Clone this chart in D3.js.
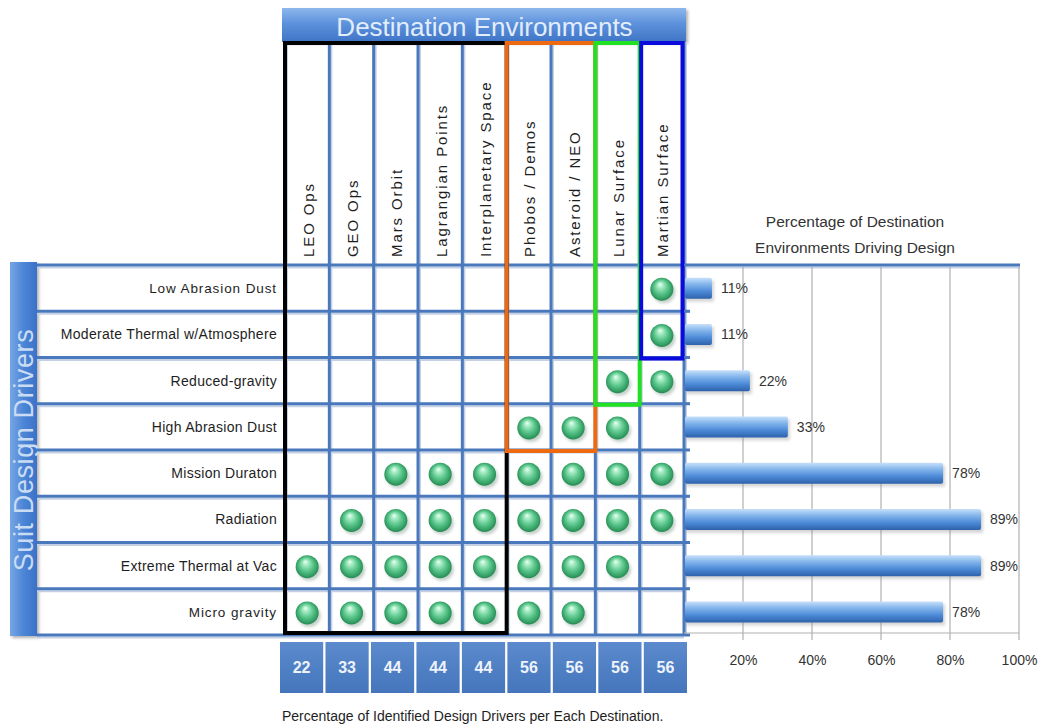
<!DOCTYPE html>
<html><head><meta charset="utf-8">
<script src="https://cdn.jsdelivr.net/npm/d3@7/dist/d3.min.js"></script>
<style>
html,body{margin:0;padding:0;background:#fff;}
svg{display:block;font-family:"Liberation Sans",Arial,Helvetica,sans-serif;}
</style></head>
<body>
<svg id="chart" width="1042" height="728"></svg>
<script>
// ---------------- DATA ----------------
const destinations = ["LEO Ops","GEO Ops","Mars Orbit","Lagrangian Points","Interplanetary Space","Phobos / Demos","Asteroid / NEO","Lunar Surface","Martian Surface"];
const drivers = ["Low Abrasion Dust","Moderate Thermal w/Atmosphere","Reduced-gravity","High Abrasion Dust","Mission Duraton","Radiation","Extreme Thermal at Vac","Micro  gravity"];
// 1 = destination drives this suit design driver
const matrix = [
  [0,0,0,0,0,0,0,0,1],
  [0,0,0,0,0,0,0,0,1],
  [0,0,0,0,0,0,0,1,1],
  [0,0,0,0,0,1,1,1,0],
  [0,0,1,1,1,1,1,1,1],
  [0,1,1,1,1,1,1,1,1],
  [1,1,1,1,1,1,1,1,0],
  [1,1,1,1,1,1,1,0,0]
];
const destPercent = [22,33,44,44,44,56,56,56,56];
const driverPercent = [11,11,22,33,78,89,89,78];
const barTicks = [20,40,60,80,100];
// destination groups: first column, last column, last driver row
const groupFirstCol = [0,5,7,8];
const groupLastCol  = [4,6,7,8];
const groupLastRow  = [7,3,2,1];
const groupColors   = ["#000000","#ee6a12","#22e022","#0a0adc"];

const titleTop = "Destination Environments";
const titleLeft = "Suit Design Drivers";
const barTitle = ["Percentage of Destination","Environments Driving Design"];
const caption = "Percentage of Identified Design Drivers per Each Destination.";

// ---------------- LAYOUT ----------------
const svg = d3.select("#chart");
const gridL = 285, gridR = 684, gridT = 265, gridB = 635;
const headerTop = 8, headerBot = 42;
const labelL = 37;

const x = d3.scaleBand().domain(destinations).range([gridL, gridR]);
const y = d3.scaleBand().domain(drivers).range([gridT, gridB]);
const xn = d3.scaleBand().domain(destinations).range([280, 687]).paddingInner(0.05).paddingOuter(0);
const xb = d3.scaleLinear().domain([0,100]).range([674, 1019]);

// ---------------- DEFS ----------------
const defs = svg.append("defs");
function linGrad(id, x1,y1,x2,y2, stops){
  const g = defs.append("linearGradient").attr("id",id)
    .attr("x1",x1).attr("y1",y1).attr("x2",x2).attr("y2",y2);
  stops.forEach(s=>g.append("stop").attr("offset",s[0]).attr("stop-color",s[1]));
}
linGrad("hdrGrad","0","0","0","1",[["0%","#8db7ec"],["45%","#5d92dc"],["100%","#3f74c6"]]);
linGrad("leftGrad","0","0","1","0",[["0%","#76a6e4"],["50%","#4c86d6"],["100%","#3a71c8"]]);
linGrad("barGrad","0","0","0","1",[["0%","#c9e1fb"],["30%","#86b7ec"],["65%","#4d8bd8"],["100%","#2e62ab"]]);
linGrad("cellGrad","0","0","0","1",[["0%","#5b8bcd"],["100%","#4575bb"]]);
const rg = defs.append("radialGradient").attr("id","dotGrad")
  .attr("cx","50%").attr("cy","50%").attr("r","55%").attr("fx","42%").attr("fy","28%");
[["0%","#f2fff7"],["18%","#b0efcb"],["50%","#62cb92"],["82%","#33a064"],["100%","#237a4a"]]
  .forEach(s=>rg.append("stop").attr("offset",s[0]).attr("stop-color",s[1]));
const blur = defs.append("filter").attr("id","blur").attr("x","-50%").attr("y","-50%").attr("width","200%").attr("height","200%");
blur.append("feGaussianBlur").attr("stdDeviation",1.6);
const sh = defs.append("filter").attr("id","shadow").attr("x","-10%").attr("y","-10%").attr("width","130%").attr("height","130%");
sh.append("feDropShadow").attr("dx",2).attr("dy",2).attr("stdDeviation",1.5).attr("flood-color","#000").attr("flood-opacity",0.3);

// ---------------- HEADER BAND ----------------
svg.append("rect").attr("x",gridL-3).attr("y",headerTop).attr("width",gridR-gridL+5).attr("height",headerBot-headerTop)
  .attr("fill","url(#hdrGrad)").attr("filter","url(#shadow)");
svg.append("text").attr("x",(gridL+gridR)/2).attr("y",36).attr("text-anchor","middle")
  .attr("font-size",26).attr("fill","#e2edfb").text(titleTop);

// ---------------- LEFT BAND ----------------
svg.append("rect").attr("x",10).attr("y",gridT-3).attr("width",labelL-10).attr("height",gridB-gridT+4)
  .attr("fill","url(#leftGrad)").attr("filter","url(#shadow)");
svg.append("text").attr("transform",`translate(${23.5},${(gridT+gridB)/2}) rotate(-90)`)
  .attr("text-anchor","middle").attr("dominant-baseline","central")
  .attr("font-size",27).attr("fill","#cadcf4").attr("letter-spacing",0.6).text(titleLeft);

// ---------------- GRID LINES ----------------
const grid = svg.append("g");
const rowEdges = drivers.map(d=>y(d)).concat([gridB]);
const colEdges = destinations.map(d=>x(d)).concat([gridR]);
rowEdges.forEach((yy,i)=>{
  grid.append("line").attr("x1",labelL).attr("x2", i===0?1020:gridR).attr("y1",yy+2.5).attr("y2",yy+2.5)
    .attr("stroke","#c4d1e4").attr("stroke-width",2);
});
colEdges.forEach(xx=>{
  grid.append("line").attr("x1",xx+2).attr("x2",xx+2).attr("y1",headerBot).attr("y2",gridB)
    .attr("stroke","#c4d1e4").attr("stroke-width",2);
});
rowEdges.forEach((yy,i)=>{
  grid.append("line").attr("x1",labelL).attr("x2", i===0?1020:gridR+6).attr("y1",yy).attr("y2",yy)
    .attr("stroke","#4a78bd").attr("stroke-width",3);
});
colEdges.forEach(xx=>{
  grid.append("line").attr("x1",xx).attr("x2",xx).attr("y1",headerBot).attr("y2",gridB+1)
    .attr("stroke","#4a78bd").attr("stroke-width",3);
});

// ---------------- COLUMN LABELS ----------------
svg.append("g").selectAll("text").data(destinations).join("text")
  .attr("transform",d=>`translate(${x(d)+x.bandwidth()/2+1},${257}) rotate(-90)`)
  .attr("text-anchor","start").attr("dominant-baseline","central")
  .attr("font-size",15).attr("letter-spacing",1.9).attr("fill","#1e1e1e").text(d=>d);

// ---------------- ROW LABELS ----------------
svg.append("g").selectAll("text").data(drivers).join("text")
  .attr("x",277).attr("y",d=>y(d)+y.bandwidth()/2+5)
  .attr("text-anchor","end")
  .attr("font-size",(d,i)=> (i===0||i===7)?13.5:14)
  .attr("letter-spacing",(d,i)=> (i===0||i===7)?0.9:0.3)
  .attr("fill","#1e1e1e").text(d=>d);

// ---------------- DOTS ----------------
const cells = [];
matrix.forEach((row,r)=>row.forEach((v,c)=>{ if(v) cells.push({r,c}); }));
const dots = svg.append("g");
dots.selectAll("ellipse").data(cells).join("ellipse")
  .attr("cx",d=>x(destinations[d.c])+x.bandwidth()/2+2)
  .attr("cy",d=>y(drivers[d.r])+y.bandwidth()/2+4)
  .attr("rx",11.5).attr("ry",11).attr("fill","#6a8a78").attr("opacity",0.4).attr("filter","url(#blur)");
dots.selectAll("circle").data(cells).join("circle")
  .attr("cx",d=>x(destinations[d.c])+x.bandwidth()/2)
  .attr("cy",d=>y(drivers[d.r])+y.bandwidth()/2+1)
  .attr("r",11.5).attr("fill","url(#dotGrad)");

// ---------------- GROUP BOXES ----------------
const boxes = svg.append("g");
groupColors.forEach((col,i)=>{
  const x0 = x(destinations[groupFirstCol[i]]);
  const x1 = x(destinations[groupLastCol[i]]) + x.bandwidth();
  const y1 = y(drivers[groupLastRow[i]]) + y.bandwidth();
  const inset = i===3 ? 1.5 : 0;
  boxes.append("rect").attr("x",x0+inset).attr("y",headerBot+1).attr("width",x1-x0-2*inset)
    .attr("height",y1-headerBot-(i===0?3:0))
    .attr("fill","none").attr("stroke",col).attr("stroke-width",4);
});

// ---------------- BOTTOM NUMBER CELLS ----------------
const nums = svg.append("g");
nums.selectAll("rect").data(destinations).join("rect")
  .attr("x",d=>xn(d)).attr("y",642).attr("width",xn.bandwidth()).attr("height",51)
  .attr("fill","url(#cellGrad)");
nums.selectAll("text").data(destinations).join("text")
  .attr("x",d=>xn(d)+xn.bandwidth()/2).attr("y",673)
  .attr("text-anchor","middle").attr("font-size",16).attr("font-weight","bold")
  .attr("fill","#eef3fb").text((d,i)=>destPercent[i]);

svg.append("text").attr("x",282).attr("y",721).attr("font-size",14).attr("fill","#1e1e1e").text(caption);

// ---------------- BAR CHART ----------------
const bars = svg.append("g");
bars.selectAll("line.g").data(barTicks).join("line").attr("class","g")
  .attr("x1",d=>xb(d)).attr("x2",d=>xb(d)).attr("y1",gridT+2).attr("y2",gridB+5)
  .attr("stroke","#a0a0a0").attr("stroke-width",1);
bars.append("line").attr("x1",gridR).attr("x2",xb(100)).attr("y1",gridB-2).attr("y2",gridB-2)
  .attr("stroke","#b0b0b0").attr("stroke-width",1);

const bh = 21;
bars.selectAll("rect.shadow").data(driverPercent).join("rect").attr("class","shadow")
  .attr("x",gridR+2).attr("y",(d,i)=>y(drivers[i])+y.bandwidth()/2-bh/2+3)
  .attr("width",d=>xb(d)-gridR).attr("height",bh)
  .attr("fill","#888").attr("opacity",0.35).attr("filter","url(#blur)");
bars.selectAll("rect.bar").data(driverPercent).join("rect").attr("class","bar")
  .attr("x",gridR+1).attr("y",(d,i)=>y(drivers[i])+y.bandwidth()/2-bh/2)
  .attr("width",d=>xb(d)-gridR-1).attr("height",bh).attr("rx",2)
  .attr("fill","url(#barGrad)");
bars.selectAll("text.val").data(driverPercent).join("text").attr("class","val")
  .attr("x",d=>xb(d)+9).attr("y",(d,i)=>y(drivers[i])+y.bandwidth()/2+5)
  .attr("font-size",14).attr("fill","#333").text(d=>d+"%");

bars.selectAll("line.t").data(rowEdges).join("line").attr("class","t")
  .attr("x1",gridR).attr("x2",gridR+6).attr("y1",d=>d).attr("y2",d=>d)
  .attr("stroke","#4a78bd").attr("stroke-width",2);

const axis = d3.axisBottom(xb).tickValues(barTicks).tickSize(0).tickPadding(20).tickFormat(d=>d+"%");
const ag = svg.append("g").attr("transform",`translate(0,${gridB})`).call(axis);
ag.select(".domain").remove();
ag.selectAll("text").attr("font-size",14).attr("fill","#333").attr("font-family","'Liberation Sans',Arial,sans-serif");

svg.append("g").selectAll("text").data(barTitle).join("text")
  .attr("x",855).attr("y",(d,i)=>227+i*26).attr("text-anchor","middle")
  .attr("font-size",15.5).attr("fill","#333").text(d=>d);
</script>
</body></html>
